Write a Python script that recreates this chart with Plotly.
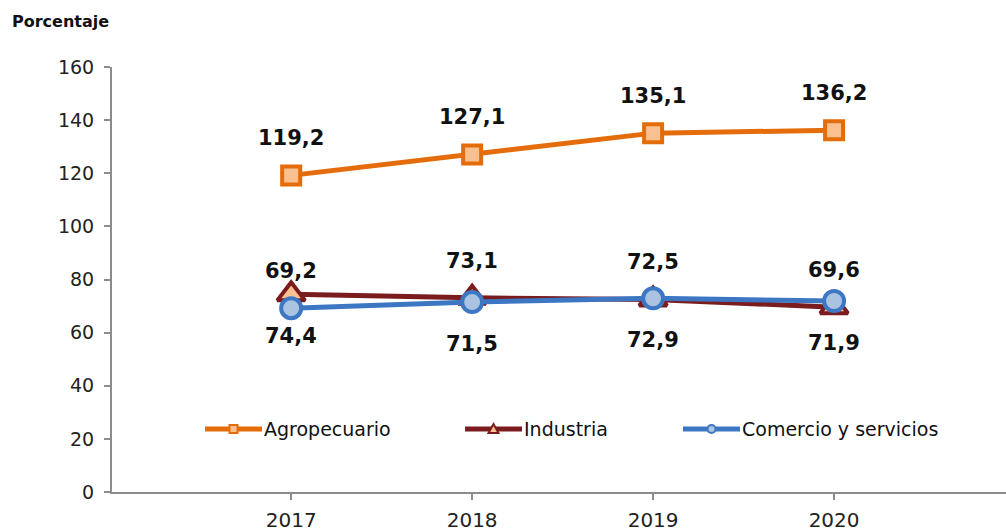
import plotly.graph_objects as go

# Series data (percent)
years = ["2017", "2018", "2019", "2020"]
agropecuario = [119.2, 127.1, 135.1, 136.2]
industria = [74.4, 73.1, 72.5, 69.6]
comercio = [69.2, 71.5, 72.9, 71.9]
y_ticks = [0, 20, 40, 60, 80, 100, 120, 140, 160]

# Where each value label sits relative to its point
agro_label_side = ["above", "above", "above", "above"]
ind_label_side = ["below", "above", "above", "above"]
com_label_side = ["above", "below", "below", "below"]

series = [
    dict(name="Agropecuario", y=agropecuario, line="#E46C0A", fill="#FAC090",
         border="#E46C0A", symbol="square", size=18, sides=agro_label_side),
    dict(name="Industria", y=industria, line="#7A1B1E", fill="#FAC090",
         border="#7A1B1E", symbol="triangle-up", size=24, sides=ind_label_side),
    dict(name="Comercio y servicios", y=comercio, line="#3D77C4", fill="#A9C3E0",
         border="#3D77C4", symbol="circle", size=20, sides=com_label_side),
]

W, H = 1006, 531
L, R, T, B = 112, 0, 67, 39
PW, PH = W - L - R, H - T - B


def px(x):
    return (x - L) / PW


def py(y):
    return (H - B - y) / PH


fig = go.Figure()
annotations = []
shapes = []

for s in series:
    fig.add_trace(go.Scatter(
        x=years, y=s["y"], mode="lines+markers", name=s["name"],
        showlegend=False, cliponaxis=False,
        line=dict(color=s["line"], width=5),
        marker=dict(symbol=s["symbol"], size=s["size"], color=s["fill"],
                    line=dict(color=s["border"], width=4)),
    ))
    # value labels; x is the category index on the category axis
    for i, (yv, side) in enumerate(zip(s["y"], s["sides"])):
        annotations.append(dict(
            x=i, y=yv, xref="x", yref="y", showarrow=False,
            text="<b>" + f"{yv:.1f}".replace(".", ",") + "</b>",
            yshift=37 if side == "above" else -42,
            font=dict(family="DejaVu Sans", size=21, color="#111111"),
        ))

# Legend drawn below the lines, inside the plot area
legend_x = [205, 465, 683]
legend_y = 429
seg = 57
for s, lx in zip(series, legend_x):
    shapes.append(dict(type="line", xref="paper", yref="paper",
                       x0=px(lx), x1=px(lx + seg), y0=py(legend_y), y1=py(legend_y),
                       line=dict(color=s["line"], width=5), layer="above"))
    cx = lx + seg / 2
    if s["symbol"] == "square":
        shapes.append(dict(type="rect", xref="paper", yref="paper",
                           x0=px(cx - 4), x1=px(cx + 4), y0=py(legend_y + 4), y1=py(legend_y - 4),
                           fillcolor=s["fill"], line=dict(color=s["border"], width=2), layer="above"))
    elif s["symbol"] == "circle":
        shapes.append(dict(type="circle", xref="paper", yref="paper",
                           x0=px(cx - 4), x1=px(cx + 4), y0=py(legend_y + 4), y1=py(legend_y - 4),
                           fillcolor=s["fill"], line=dict(color=s["border"], width=2), layer="above"))
    else:
        path = (f"M {px(cx - 5)},{py(legend_y + 4)} L {px(cx + 5)},{py(legend_y + 4)} "
                f"L {px(cx)},{py(legend_y - 5)} Z")
        shapes.append(dict(type="path", xref="paper", yref="paper", path=path,
                           fillcolor=s["fill"], line=dict(color=s["border"], width=2), layer="above"))
    annotations.append(dict(x=px(lx + seg), y=py(legend_y), xref="paper", yref="paper",
                            xanchor="left", yanchor="middle", showarrow=False,
                            text=s["name"],
                            font=dict(family="DejaVu Sans", size=19, color="#111111")))

annotations.append(dict(x=px(10), y=py(22), xref="paper", yref="paper",
                        xanchor="left", yanchor="middle", showarrow=False,
                        text="<b>Porcentaje</b>",
                        font=dict(family="DejaVu Sans", size=16, color="#111111")))

fig.update_layout(
    width=W, height=H,
    margin=dict(l=L, r=R, t=T, b=B),
    paper_bgcolor="white", plot_bgcolor="white",
    showlegend=False,
    annotations=annotations,
    shapes=shapes,
    xaxis=dict(
        type="category", range=[-0.99, 3.95], automargin=False,
        showgrid=False, zeroline=False,
        showline=True, linecolor="#8C8C8C", linewidth=2,
        ticks="outside", ticklen=6, tickcolor="#8C8C8C", tickwidth=2,
        ticklabelstandoff=3,
        tickfont=dict(family="DejaVu Sans", size=20, color="#222222"),
    ),
    yaxis=dict(
        range=[0, 160], tickvals=y_ticks, automargin=False,
        showgrid=False, zeroline=False,
        showline=True, linecolor="#8C8C8C", linewidth=2,
        ticks="outside", ticklen=6, tickcolor="#8C8C8C", tickwidth=2,
        ticklabelstandoff=6,
        tickfont=dict(family="DejaVu Sans", size=19, color="#222222"),
    ),
)

fig.write_html("out.html")
